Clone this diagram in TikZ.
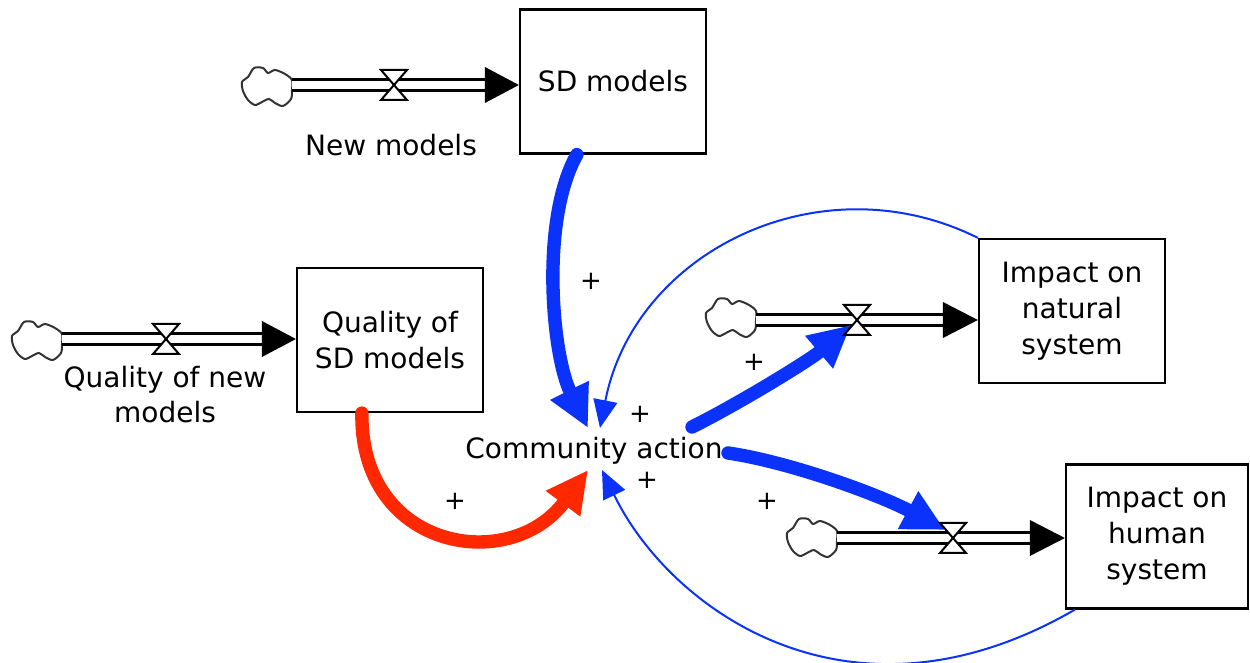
\documentclass[tikz,border=0pt]{standalone}
\usepackage{fontspec}
\setmainfont{DejaVu Sans}
\usetikzlibrary{arrows.meta,calc}
\definecolor{linkblue}{RGB}{10,50,250}
\definecolor{linkred}{RGB}{255,40,0}
\tikzset{
  stock/.style={draw, line width=1.1pt, minimum width=93pt, minimum height=72pt,
    inner sep=0pt, align=center, font=\fontsize{14}{18}\selectfont},
  lbl/.style={align=center, inner sep=0pt, font=\fontsize{14}{17.5}\selectfont},
  pol/.style={inner sep=0pt, font=\fontsize{13}{15}\selectfont},
  pipe/.style={line width=1.3pt, double=white, double distance=4pt, shorten >=16pt},
  heavy/.style={line width=6.7pt, line cap=round, -{Triangle[length=21pt,width=20pt]}},
  light/.style={line width=1pt, -{Triangle[length=14pt,width=12pt]}},
  flowvalve/.pic={
    \filldraw[fill=white, line width=1pt, line join=miter]
      (-13,-15) -- (13,-15) -- (0,0) -- cycle
      (-13,15) -- (13,15) -- (0,0) -- cycle;},
  cloudmark/.pic={
    \draw[black!80, line width=1pt, fill=white] plot[smooth cycle, tension=0.5] coordinates {
      (-19,-10) (-13,-19) (-4,-19) (1,-14) (8,-17) (18,-13) (25,-7) (25,3) (24,12)
      (16,19) (8,16) (2,12) (-5,15) (-12,18) (-19,13) (-24,4) (-25,-5)};}
}
\begin{document}
\begin{tikzpicture}[x=0.5pt,y=-0.5pt]
\useasboundingbox (0,0) rectangle (1250,663);

% stocks
\node[stock] (sd) at (613,81.5) {SD models};
\node[stock] (qual) at (390,340) {Quality of\\SD models};
\node[stock] (nat) at (1072,311) {Impact on\\natural\\system};
\node[stock, minimum width=91pt] (hum) at (1157,536.5) {Impact on\\human\\system};
\node[lbl] (ca) at (594,451) {Community action};

% flow: New models
\pic at (267,87) {cloudmark};
\coordinate (c1) at (292,85);
\draw[pipe] (c1) -- (c1 -| sd.west);
\fill (c1 -| sd.west) -- ++(-34,-18) -- ++(0,36) -- cycle;
\coordinate (v1) at (394,85);
\pic at (v1) {flowvalve};
\node[lbl] (nm) at (391,145) {New models};

% flow: Quality of new models
\pic at (37,341) {cloudmark};
\coordinate (c2) at (62,339);
\draw[pipe] (c2) -- (c2 -| qual.west);
\fill (c2 -| qual.west) -- ++(-34,-18) -- ++(0,36) -- cycle;
\coordinate (v2) at (166,339);
\pic at (v2) {flowvalve};
\node[lbl] (qn) at (165,395) {Quality of new\\models};

% flow into natural system
\pic at (731,318) {cloudmark};
\coordinate (c3) at (756,320);
\draw[pipe] (c3) -- (c3 -| nat.west);
\fill (c3 -| nat.west) -- ++(-35,-18) -- ++(0,36) -- cycle;
\coordinate (v3) at (857,320);

% flow into human system
\pic at (812,538) {cloudmark};
\coordinate (c4) at (837,538);
\draw[pipe] (c4) -- (c4 -| hum.west);
\fill (c4 -| hum.west) -- ++(-35,-18) -- ++(0,36) -- cycle;
\coordinate (v4) at (953,538);

% feedback links
\draw[light, linkblue] (nat.north west) .. controls (822,160) and (635,250) .. ($(ca)+(6,-23)$);
\draw[light, linkblue] ($(hum.south west)+(10,0)$) .. controls (850,740) and (670,610) .. ($(ca)+(8,19)$);

% causal links
\draw[heavy, linkblue] ($(sd.south west)+(58,0)$) .. controls (540,220) and (552,355) .. ($(ca)+(-6,-23)$);
\draw[heavy, linkred] ($(qual.south west)+(66,0)$) .. controls (360,550) and (510,575) .. ($(ca)+(-6,19)$);
\draw[heavy, linkblue] ($(ca)+(98,-24)$) .. controls (740,403) and (810,360) .. ($(v3)+(-6,5)$);
\draw[heavy, linkblue] ($(ca)+(134,2)$) .. controls (790,462) and (880,495) .. ($(v4)+(-8,-8)$);

\pic at (v3) {flowvalve};
\pic at (v4) {flowvalve};

% polarities
\node[pol] (p1) at (591,281) {+};
\node[pol] (p2) at (640,414) {+};
\node[pol] (p3) at (455,501) {+};
\node[pol] (p4) at (647,480) {+};
\node[pol] (p5) at (754,362) {+};
\node[pol] (p6) at (767,501) {+};
\end{tikzpicture}
\end{document}
